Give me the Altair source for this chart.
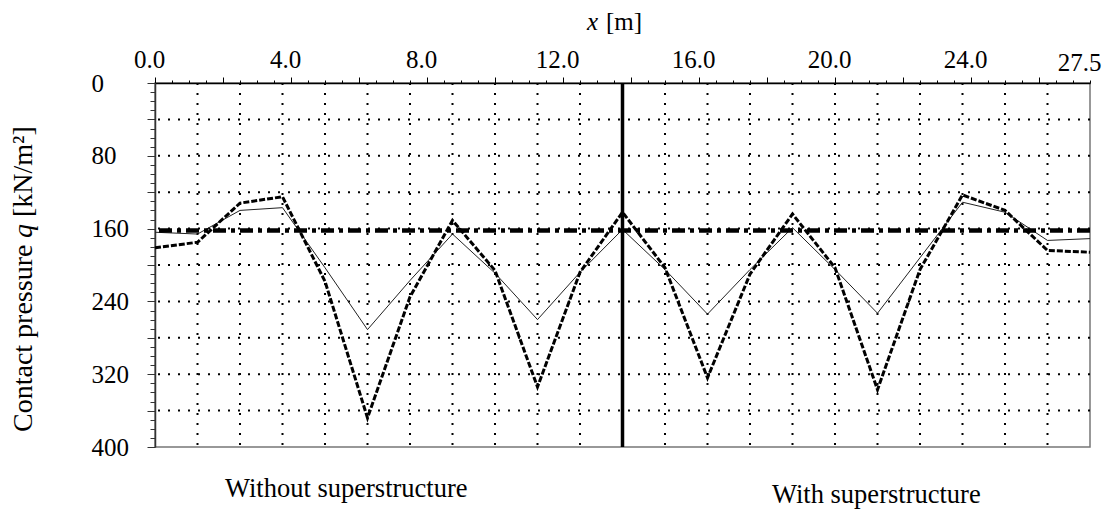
import altair as alt
import pandas as pd

# ---------------- data ----------------
x_nodes = [0.0, 1.25, 2.5, 3.75, 5.0, 6.25, 7.5, 8.75, 10.0, 11.25, 12.5,
           13.75, 15.0, 16.25, 17.5, 18.75, 20.0, 21.25, 22.5, 23.75, 25.0,
           26.25, 27.5]
q_thin = [164, 166, 140, 137, 203, 271, 217, 166, 209, 260, 208,
          161, 205, 254, 205, 159, 205, 253, 192, 131, 142, 173, 171]
q_thick = [181, 175, 132, 125, 218, 368, 235, 151, 206, 334, 208,
           142, 203, 324, 210, 144, 203, 337, 205, 123, 140, 184, 186]
q_mean = [162]
x_center = [13.75]
grid_x = [1.25, 2.5, 3.75, 5.0, 6.25, 7.5, 8.75, 10.0, 11.25, 12.5,
          15.0, 16.25, 17.5, 18.75, 20.0, 21.25, 22.5, 23.75, 25.0, 26.25]
grid_q = [40, 80, 120, 160, 200, 240, 280, 320, 360]
x_tick_values = [i * 0.5 for i in range(56)]
x_label_values = [0, 4, 8, 12, 16, 20, 24, 27.5]
y_tick_values = list(range(0, 401, 10))
y_label_values = [0, 80, 160, 240, 320, 400]

FONT = "Liberation Serif"
W, H = 935, 364

lines_df = pd.DataFrame({"x": x_nodes, "thin": q_thin, "thick": q_thick})

x_lab_arr = "[" + ",".join(str(v) for v in x_label_values) + "]"
y_lab_arr = "[" + ",".join(str(v) for v in y_label_values) + "]"
last_test = f"datum.value === {x_label_values[-1]}"

x_axis = alt.Axis(
    orient="top", values=x_tick_values,
    labelExpr=f"indexof({x_lab_arr}, datum.value) >= 0 ? format(datum.value, '.1f') : ''",
    labelOverlap=False, labelFlush=False, labelFont=FONT, labelFontSize=25,
    labelColor="black", labelBaseline="alphabetic", labelPadding=10,
    labelAlign={"condition": {"test": last_test, "value": "right"}, "value": "center"},
    labelOffset={"condition": {"test": last_test, "value": 11}, "value": -6},
    tickSize={"condition": {"test": "datum.value % 2 === 0", "value": 6}, "value": 3},
    tickColor="black", tickWidth=1, domainColor="black", domainWidth=1.5,
    grid=False, title=None,
)
y_axis = alt.Axis(
    orient="left", values=y_tick_values,
    labelExpr=f"indexof({y_lab_arr}, datum.value) >= 0 ? format(datum.value, 'd') : ''",
    labelOverlap=False, labelFlush=False, labelFont=FONT, labelFontSize=25,
    labelColor="black", labelAlign="left", labelBaseline="middle", labelPadding=56,
    tickSize={"condition": {"test": "datum.value % 40 === 0", "value": 8}, "value": 5},
    tickColor="#333", tickWidth=1, domainColor="#333", domainWidth=1.5,
    grid=False, title=None,
)
x_scale = alt.Scale(domain=[0, 27.5], nice=False, zero=False)
y_scale = alt.Scale(domain=[0, 400], reverse=True, nice=False, zero=False)

X = alt.X("x:Q", scale=x_scale, axis=x_axis)
Y = alt.Y("q:Q", scale=y_scale, axis=y_axis)

grid_h = alt.Chart(pd.DataFrame({"q": grid_q})).mark_rule(
    color="black", strokeWidth=2, strokeDash=[2, 8]).encode(y=Y)
grid_v = alt.Chart(pd.DataFrame({"x": grid_x})).mark_rule(
    color="black", strokeWidth=2, strokeDash=[2, 8]).encode(x=X)

thin = alt.Chart(lines_df).mark_line(color="#222", strokeWidth=1).encode(
    x=X, y=alt.Y("thin:Q", scale=y_scale, axis=y_axis))
thick = alt.Chart(lines_df).mark_line(color="black", strokeWidth=3, strokeDash=[6, 2]).encode(
    x=X, y=alt.Y("thick:Q", scale=y_scale, axis=y_axis))

mean_line = alt.Chart(pd.DataFrame({"q": q_mean})).mark_rule(
    color="black", strokeWidth=4.5, strokeDash=[13, 5, 4, 5]).encode(y=Y)
center_line = alt.Chart(pd.DataFrame({"x": x_center})).mark_rule(
    color="black", strokeWidth=3.5).encode(x=X)


def label(txt, px, py, align="left", angle=0, style="normal", size=25):
    return alt.Chart(pd.DataFrame({"t": [txt]})).mark_text(
        font=FONT, fontSize=size, fontStyle=style, align=align, baseline="alphabetic",
        angle=angle, color="black").encode(
        x=alt.value(px), y=alt.value(py), text="t:N")


texts = [
    label("x", 443, -53, align="right", style="italic"),
    label("[m]", 451, -53, align="left"),
    label("Contact pressure", -123, 349, align="left", angle=270, size=28),
    label("q", -123, 148, align="center", angle=270, style="italic", size=28),
    label("[kN/m²]", -123, 134, align="left", angle=270, size=28),
    label("Without superstructure", 70, 414, align="left", size=26.5),
    label("With superstructure", 617, 420, align="left", size=26.5),
]

chart = alt.layer(grid_h, grid_v, thin, thick, mean_line, center_line, *texts).properties(
    width=W, height=H,
    autosize=alt.AutoSizeParams(type="none"),
    padding={"left": 147, "top": 75, "right": 13, "bottom": 63},
).configure_view(stroke="#777", strokeWidth=1.5)

chart.save("out.html", embed_options={"renderer": "svg", "actions": False})
